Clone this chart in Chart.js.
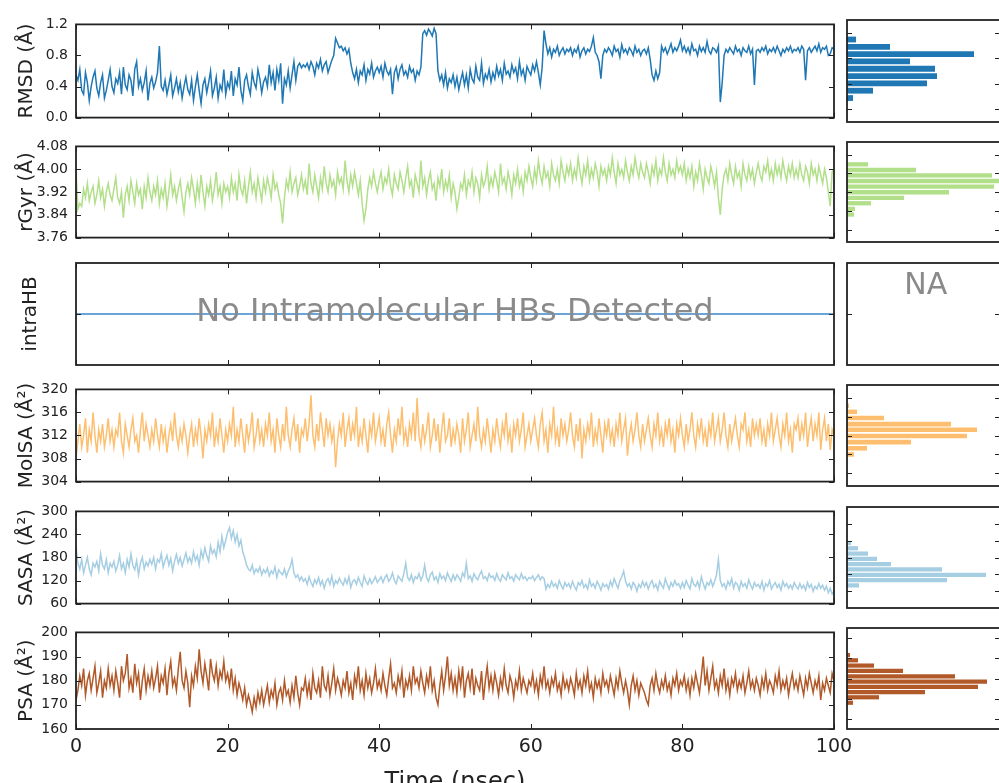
<!DOCTYPE html>
<html>
<head>
<meta charset="utf-8">
<title>Simulation properties</title>
<script src="https://cdn.jsdelivr.net/npm/chart.js@4.4.1/dist/chart.umd.min.js"></script>
<style>
  html, body { margin: 0; padding: 0; background: #fff; }
  body { width: 999px; height: 783px; overflow: hidden; position: relative; }
  canvas { position: absolute; }
</style>
</head>
<body>
<script>
// time axis: one sample every 0.25 ns
const timeStep = 0.25;
const timeTicks = [0, 20, 40, 60, 80, 100];

const rmsdTicks = [0.0, 0.4, 0.8, 1.2];
const rgyrTicks = [3.76, 3.84, 3.92, 4.00, 4.08];
const intraHbTicks = [0];
const molsaTicks = [304, 308, 312, 316, 320];
const sasaTicks = [60, 120, 180, 240, 300];
const psaTicks = [160, 170, 180, 190, 200];

// one row = 5 ns
const rmsd = [
  0.55, 0.48, 0.62, 0.35, 0.30, 0.58, 0.45, 0.22, 0.40, 0.52, 0.60, 0.38, 0.28, 0.45, 0.55, 0.25, 0.35, 0.48, 0.62, 0.40,
  0.32, 0.50, 0.44, 0.58, 0.30, 0.65, 0.42, 0.36, 0.55, 0.48, 0.28, 0.62, 0.72, 0.40, 0.50, 0.35, 0.45, 0.60, 0.22, 0.44,
  0.52, 0.38, 0.46, 0.58, 0.92, 0.40, 0.35, 0.48, 0.30, 0.42, 0.55, 0.28, 0.38, 0.50, 0.33, 0.45, 0.25, 0.40, 0.52, 0.36,
  0.30, 0.48, 0.22, 0.40, 0.55, 0.35, 0.18, 0.42, 0.50, 0.32, 0.45, 0.60, 0.28, 0.38, 0.52, 0.25, 0.42, 0.35, 0.62, 0.30,
  0.45, 0.38, 0.60, 0.28, 0.50, 0.42, 0.65, 0.35, 0.22, 0.48, 0.55, 0.40, 0.30, 0.58, 0.45, 0.38, 0.62, 0.50, 0.32, 0.46,
  0.52, 0.40, 0.68, 0.45, 0.58, 0.35, 0.62, 0.48, 0.70, 0.18, 0.50, 0.42, 0.60, 0.38, 0.55, 0.72, 0.48, 0.66, 0.70, 0.64,
  0.68, 0.65, 0.70, 0.62, 0.72, 0.66, 0.55, 0.70, 0.64, 0.75, 0.60, 0.68, 0.72, 0.58, 0.66, 0.74, 0.80, 1.02, 0.96, 0.90,
  0.92, 0.86, 0.90, 0.82, 0.88, 0.70, 0.58, 0.50, 0.62, 0.45, 0.60, 0.55, 0.68, 0.48, 0.62, 0.56, 0.70, 0.52, 0.60, 0.65,
  0.58, 0.66, 0.52, 0.70, 0.60, 0.55, 0.62, 0.30, 0.58, 0.65, 0.50, 0.62, 0.68, 0.55, 0.60, 0.52, 0.66, 0.58, 0.62, 0.48,
  0.60, 0.55, 0.65, 1.08, 1.12, 1.06, 1.14, 1.10, 1.05, 1.15, 1.08, 0.60, 0.48, 0.55, 0.42, 0.58, 0.38, 0.50, 0.45, 0.55,
  0.40, 0.52, 0.36, 0.48, 0.58, 0.42, 0.55, 0.38, 0.62, 0.50, 0.45, 0.66, 0.52, 0.48, 0.70, 0.44, 0.56, 0.50, 0.62, 0.46,
  0.58, 0.50, 0.66, 0.54, 0.62, 0.48, 0.70, 0.56, 0.60, 0.52, 0.68, 0.58, 0.64, 0.50, 0.72, 0.55, 0.62, 0.48, 0.66, 0.60,
  0.55, 0.68, 0.60, 0.72, 0.58, 0.42, 0.65, 1.12, 0.95, 0.82, 0.90, 0.78, 0.88, 0.84, 0.92, 0.80, 0.86, 0.90, 0.82, 0.88,
  0.85, 0.90, 0.80, 0.88, 0.84, 0.92, 0.78, 0.86, 0.90, 0.82, 0.88, 0.85, 0.92, 1.03, 0.84, 0.80, 0.72, 0.50, 0.80, 0.88,
  0.84, 0.90, 0.86, 0.80, 0.92, 0.85, 0.88, 0.78, 0.94, 0.84, 0.88, 0.82, 0.90, 0.86, 0.80, 0.92, 0.84, 0.88, 0.80, 0.86,
  0.88, 0.82, 0.90, 0.75, 0.55, 0.48, 0.60, 0.50, 0.58, 0.92, 0.85, 0.90, 0.82, 0.88, 0.95, 0.84, 0.90, 0.86, 0.92, 1.00,
  0.86, 0.92, 0.84, 0.90, 0.82, 0.95, 0.86, 0.88, 0.80, 0.92, 0.85, 0.90, 0.84, 0.98, 0.86, 0.82, 0.90, 0.88, 0.84, 0.92,
  0.20, 0.45, 0.80, 0.88, 0.84, 0.90, 0.86, 0.82, 0.92, 0.85, 0.88, 0.80, 0.90, 0.86, 0.84, 0.92, 0.82, 0.88, 0.42, 0.86,
  0.88, 0.84, 0.90, 0.86, 0.92, 0.82, 0.88, 0.85, 0.90, 0.84, 0.92, 0.86, 0.80, 0.88, 0.84, 0.90, 0.86, 0.92, 0.84, 0.88,
  0.86, 0.90, 0.84, 0.92, 0.88, 0.48, 0.86, 0.90, 0.84, 0.88, 0.92, 0.86, 0.95, 0.84, 0.90, 0.88, 0.92, 0.80, 0.82, 0.90,
  0.88
];

const rgyr = [
  4.00, 3.86, 3.88, 3.87, 3.93, 3.90, 3.95, 3.89, 3.92, 3.94, 3.88, 3.91, 3.96, 3.90, 3.93, 3.87, 3.92, 3.95, 3.91, 3.89,
  3.93, 3.97, 3.90, 3.88, 3.92, 3.83, 3.91, 3.94, 3.89, 3.96, 3.92, 3.88, 3.95, 3.91, 3.93, 3.86, 3.94, 3.90, 3.97, 3.92,
  3.89, 3.94, 3.91, 3.96, 3.88, 3.93, 3.90, 3.95, 3.87, 3.92, 3.98, 3.91, 3.94, 3.89, 3.93, 3.96, 3.90, 3.85, 3.92, 3.95,
  3.91, 3.97, 3.93, 3.88, 3.95, 3.90, 3.98, 3.92, 3.87, 3.94, 3.91, 3.96, 3.89, 3.93, 3.99, 3.91, 3.94, 3.88, 3.95, 3.92,
  3.94, 3.90, 3.97, 3.92, 3.95, 3.89, 3.98, 3.93, 3.91, 3.96, 3.88, 3.94, 3.99, 3.92, 3.95, 3.90, 3.97, 3.93, 3.89, 3.96,
  3.92, 3.97, 3.94, 3.90, 3.98, 3.93, 3.95, 3.91, 3.88, 3.81, 3.90, 3.96, 3.93, 3.99, 3.92, 3.95, 3.97, 3.91, 3.94, 3.98,
  3.93, 3.96, 3.91, 4.02, 3.95, 3.92, 3.98, 3.94, 3.90, 3.97, 3.93, 4.01, 3.95, 3.92, 3.98, 3.94, 3.96, 3.91, 3.99, 3.95,
  3.97, 3.93, 4.03, 3.96, 3.92, 3.98, 3.94, 3.99, 3.95, 3.91, 3.96, 3.88, 3.82, 3.86, 3.93, 3.97, 3.94, 3.99, 3.95, 3.92,
  3.96, 3.99, 3.93, 3.97, 3.95, 4.00, 3.94, 3.91, 3.98, 3.95, 3.93, 3.99, 3.96, 3.92, 3.97, 4.01, 3.94, 3.96, 3.90, 3.98,
  3.95, 3.92, 4.03, 3.94, 3.97, 3.91, 3.96, 3.99, 3.93, 3.95, 3.89, 3.97, 3.94, 4.00, 3.92, 3.96, 3.93, 3.98, 3.90, 3.95,
  3.92, 3.86, 3.90, 3.95, 3.93, 3.98, 3.91, 3.96, 3.94, 3.99, 3.92, 3.97, 3.95, 3.90, 3.98, 3.94, 3.96, 4.01, 3.93, 3.97,
  3.94, 3.99, 3.96, 3.92, 4.02, 3.95, 3.97, 3.93, 3.99, 3.96, 3.91, 3.98, 3.95, 4.00, 3.94, 3.97, 3.92, 3.99, 3.96, 4.01,
  3.97, 3.94, 4.00, 3.96, 4.03, 3.98, 3.95, 4.01, 3.97, 3.99, 3.94, 4.02, 3.98, 3.96, 4.00, 3.95, 4.03, 3.99, 3.96, 4.01,
  3.98, 4.02, 3.96, 4.00, 3.97, 4.04, 3.99, 3.95, 4.01, 3.98, 4.03, 3.96, 4.00, 3.97, 4.02, 3.99, 3.94, 4.01, 3.98, 4.00,
  3.96, 4.01, 3.98, 4.04, 3.99, 3.95, 4.02, 3.98, 4.00, 3.97, 4.03, 3.99, 3.96, 4.01, 3.98, 4.04, 4.00, 3.97, 4.02, 3.99,
  3.97, 4.02, 3.99, 3.95, 4.01, 3.98, 4.03, 3.96, 4.00, 3.98, 4.04, 3.99, 3.96, 4.02, 3.98, 4.00, 3.97, 4.03, 3.99, 4.01,
  3.98, 4.02, 3.96, 4.00, 3.97, 4.01, 3.94, 3.99, 3.96, 4.02, 3.98, 3.93, 4.00, 3.97, 3.95, 4.01, 3.98, 3.94, 3.99, 3.90,
  3.84, 3.93, 3.98, 4.00, 3.96, 4.02, 3.98, 3.95, 4.01, 3.97, 3.99, 3.94, 4.02, 3.98, 3.96, 4.01, 3.97, 4.00, 3.95, 3.99,
  4.02, 3.98, 3.96, 4.01, 3.99, 4.03, 3.97, 4.00, 3.96, 4.02, 3.98, 4.01, 3.97, 4.03, 3.99, 3.96, 4.01, 3.98, 4.02, 3.97,
  4.00, 3.97, 4.02, 3.98, 3.96, 4.01, 3.99, 3.95, 4.02, 3.98, 4.00, 3.96, 4.01, 3.98, 3.95, 4.00, 3.97, 3.92, 3.87, 3.99,
  4.00
];

const intraHbTime = [0, 100];
const intraHb = [0, 0];

const molsa = [
  308, 311, 314, 310, 312, 315, 309, 313, 311, 316, 312, 309, 313, 311, 314, 310, 312, 315, 311, 313,
  310, 313, 312, 316, 311, 309, 314, 312, 310, 313, 315, 311, 312, 309, 313, 316, 311, 314, 312, 310,
  313, 311, 315, 312, 310, 314, 311, 313, 309, 312, 314, 311, 316, 312, 310, 313, 311, 314, 312, 309,
  312, 314, 310, 313, 311, 315, 312, 308, 313, 311, 314, 312, 316, 310, 313, 311, 315, 312, 309, 313,
  311, 314, 312, 317, 310, 313, 311, 315, 312, 309, 314, 311, 313, 316, 310, 312, 315, 311, 313, 310,
  314, 312, 316, 311, 313, 309, 315, 312, 310, 314, 311, 317, 312, 310, 313, 315, 311, 314, 309, 313,
  312, 315, 311, 314, 319, 312, 310, 314, 311, 316, 313, 310, 315, 312, 314, 311, 313, 306.5, 311, 314,
  312, 316, 310, 313, 315, 311, 314, 312, 317, 310, 313, 311, 315, 312, 309, 314, 312, 316, 311, 313,
  315, 311, 313, 310, 314, 316, 312, 309, 313, 311, 315, 312, 317, 311, 313, 310, 314, 312, 316, 311,
  318.5, 312, 310, 314, 311, 313, 316, 310, 312, 315, 311, 314, 309, 313, 316, 311, 312, 315, 310, 313,
  311, 314, 312, 309, 315, 311, 313, 316, 310, 312, 314, 311, 317, 312, 310, 313, 311, 315, 312, 309,
  313, 311, 315, 312, 310, 314, 312, 316, 311, 313, 309, 314, 312, 315, 311, 313, 316, 310, 312, 314,
  311, 313, 315, 312, 310, 314, 316, 311, 313, 309, 314, 312, 317, 311, 313, 310, 315, 312, 314, 311,
  313, 316, 312, 310, 314, 311, 315, 308, 313, 311, 314, 312, 316, 310, 313, 311, 315, 312, 309, 314,
  312, 315, 311, 313, 310, 314, 312, 316, 311, 313, 315, 308.5, 312, 314, 311, 313, 316, 312, 310, 314,
  311, 313, 315, 312, 310, 314, 312, 316, 311, 313, 310, 314, 312, 315, 311, 313, 309, 314, 312, 315,
  312, 310, 314, 311, 313, 316, 312, 310, 314, 312, 315, 311, 313, 310, 314, 312, 316, 311, 313, 315,
  311, 313, 316, 312, 310, 314, 311, 313, 315, 312, 310, 314, 313, 316, 311, 313, 310, 315, 312, 314,
  312, 315, 311, 313, 310, 314, 312, 316, 311, 313, 315, 312, 310, 314, 312, 316, 311, 313, 309, 314,
  313, 315, 311, 314, 312, 316, 310, 313, 315, 311, 314, 312, 316, 309.5, 313, 315, 311, 314, 309.5, 313,
  312
];

const sasa = [
  210, 165, 150, 175, 140, 160, 180, 150, 135, 165, 155, 170, 145, 190, 160, 150, 175, 140, 165, 155,
  170, 145, 160, 185, 150, 165, 140, 175, 155, 190, 160, 148, 172, 135, 165, 180, 150, 168, 158, 175,
  162, 180, 150, 175, 168, 190, 155, 172, 185, 160, 178, 145, 170, 188, 165, 180, 158, 175, 192, 168,
  180, 165, 195, 172, 185, 160, 198, 178, 205, 185, 170, 210, 190, 200, 182, 220, 195, 235, 205, 225,
  245, 258, 230, 250, 220, 240, 210, 225, 195, 180, 160, 150, 145, 160, 138, 150, 142, 155, 135, 148,
  140, 152, 132, 145, 138, 155, 128, 148, 140, 135, 150, 130, 145, 155, 175, 140, 128, 135, 120, 130,
  118, 125, 110, 130, 115, 105, 122, 112, 128, 108, 120, 100, 118, 125, 110, 132, 105, 120, 112, 126,
  115, 108, 125, 112, 130, 102, 118, 122, 110, 128, 115, 105, 132, 118, 110, 125, 112, 120, 130, 115,
  122, 130, 115, 128, 135, 118, 125, 140, 120, 112, 132, 125, 118, 138, 165, 128, 120, 135, 115, 130,
  125, 138, 120, 132, 160, 128, 118, 135, 142, 122, 130, 115, 138, 125, 132, 120, 140, 128, 118, 135,
  122, 135, 128, 118, 140, 130, 165, 125, 132, 118, 138, 128, 122, 135, 145, 125, 130, 120, 138, 128,
  132, 120, 138, 125, 118, 135, 128, 122, 140, 125, 130, 118, 135, 128, 122, 138, 125, 130, 120, 128,
  125, 132, 120, 128, 135, 122, 130, 125, 98, 110, 102, 118, 105, 112, 100, 120, 108, 98, 115, 105,
  112, 100, 118, 105, 95, 115, 108, 120, 102, 110, 98, 122, 105, 112, 100, 118, 108, 95, 112, 104,
  110, 98, 118, 105, 125, 112, 100, 120, 130, 145, 118, 105, 112, 98, 115, 108, 92, 110, 102, 118,
  105, 115, 98, 112, 120, 102, 110, 95, 118, 108, 100, 125, 110, 98, 115, 105, 120, 108, 112, 100,
  115, 102, 120, 108, 98, 125, 110, 105, 118, 100, 130, 112, 98, 115, 108, 122, 105, 118, 135, 175,
  120, 105, 112, 98, 118, 108, 125, 100, 115, 110, 95, 118, 105, 112, 100, 122, 108, 98, 115, 105,
  110, 100, 118, 95, 112, 105, 120, 98, 108, 115, 102, 110, 95, 118, 105, 112, 100, 108, 98, 115,
  105, 98, 112, 100, 108, 95, 115, 102, 110, 92, 105, 98, 112, 100, 108, 95, 105, 88, 100, 85,
  92
];

const psa = [
  172, 176, 182, 178, 185, 174, 180, 183, 176, 181, 186, 175, 179, 184, 173, 180, 177, 185, 178, 182,
  176, 184, 179, 173, 186, 180, 183, 191, 177, 181, 175, 187, 179, 183, 172, 180, 185, 176, 182, 178,
  184, 177, 181, 186, 175, 182, 179, 185, 174, 183, 188, 178, 181, 176, 185, 192, 180, 177, 184, 179,
  169, 182, 178, 186, 181, 193, 184, 179, 187, 182, 176, 189, 183, 180, 186, 178, 184, 181, 188, 180,
  183, 178, 185, 176, 181, 174, 179, 176, 172, 177, 170, 174, 171, 167, 173, 169, 175, 171, 176, 170,
  174, 178, 171, 176, 173, 179, 170, 175, 177, 172, 180, 174, 176, 171, 178, 173, 182, 175, 170, 177,
  176, 181, 174, 179, 172, 183, 177, 175, 180, 173, 186, 178, 176, 182, 174, 179, 185, 176, 181, 178,
  174, 180, 177, 184, 175, 179, 172, 182, 178, 186, 176, 180, 174, 183, 177, 181, 175, 179, 185, 177,
  180, 176, 183, 178, 174, 181, 187, 177, 179, 175, 182, 178, 184, 173, 180, 177, 182, 176, 186, 179,
  181, 177, 184, 179, 175, 182, 178, 186, 176, 180, 173, 170, 178, 184, 176, 182, 190, 178, 183, 176,
  181, 175, 184, 178, 186, 173, 180, 183, 177, 185, 174, 181, 178, 176, 184, 172, 180, 186, 177, 182,
  176, 183, 179, 174, 181, 177, 185, 178, 175, 182, 179, 173, 180, 177, 184, 176, 181, 178, 175, 180,
  178, 183, 176, 180, 174, 182, 178, 186, 177, 180, 175, 181, 178, 183, 176, 179, 174, 182, 177, 180,
  176, 181, 178, 174, 183, 177, 180, 175, 182, 178, 184, 176, 179, 173, 181, 177, 180, 175, 183, 178,
  180, 176, 182, 178, 174, 181, 177, 184, 179, 175, 180, 176, 170, 178, 182, 176, 180, 174, 179, 177,
  175, 172, 170, 178, 181, 176, 183, 178, 175, 180, 177, 182, 176, 179, 174, 181, 178, 183, 176, 180,
  178, 182, 176, 180, 174, 181, 177, 183, 179, 175, 182, 190, 178, 184, 176, 181, 186, 177, 180, 175,
  182, 178, 185, 176, 180, 174, 181, 178, 183, 176, 180, 177, 182, 175, 179, 184, 177, 180, 176, 181,
  178, 174, 181, 177, 183, 176, 180, 178, 175, 182, 178, 184, 176, 180, 177, 181, 174, 179, 183, 177,
  180, 176, 182, 178, 174, 181, 177, 183, 179, 175, 180, 177, 182, 172, 179, 176, 181, 178, 175, 183,
  180
];

// histogram bins (centres) and counts, top bin first
const rmsdBins = [1.094, 0.979, 0.864, 0.750, 0.635, 0.520, 0.405, 0.291, 0.176];
const rmsdCounts = [9, 43, 127, 63, 88, 90, 80, 26, 6];
const rgyrBins = [4.038, 4.014, 3.991, 3.967, 3.943, 3.919, 3.895, 3.872, 3.848, 3.824];
const rgyrCounts = [21, 69, 145, 158, 147, 102, 57, 24, 8, 7];
const molsaBins = [318.3, 317.0, 315.7, 314.4, 313.2, 311.9, 310.6, 309.3, 308.0];
const molsaCounts = [2, 10, 37, 104, 130, 120, 64, 20, 7];
const sasaBins = [231.8, 212.9, 194.0, 175.1, 156.2, 137.3, 118.4, 99.5, 80.6];
const sasaCounts = [4, 11, 21, 30, 44, 95, 139, 100, 12];
const psaBins = [191.6, 189.0, 186.4, 183.8, 181.1, 178.5, 175.9, 173.3, 170.7, 168.0];
const psaCounts = [3, 11, 27, 56, 108, 140, 131, 78, 32, 6];

Chart.defaults.font.family = '"DejaVu Sans", sans-serif';
Chart.defaults.color = '#222';

const noteColor = '#8a8a8a';

const panels = [
  { title: 'RMSD (Å)', top: 20, bottom: 122, min: 0, max: 1.2, ticks: rmsdTicks, digits: 1,
    color: '#1f78b4', values: rmsd, bins: rmsdBins, counts: rmsdCounts, titlePad: 15 },
  { title: 'rGyr (Å)', top: 142, bottom: 242, min: 3.76, max: 4.08, ticks: rgyrTicks, digits: 2,
    color: '#b2df8a', values: rgyr, bins: rgyrBins, counts: rgyrCounts, titlePad: 15 },
  { title: 'intraHB', top: 263, bottom: 365, min: -1, max: 1, ticks: intraHbTicks, digits: 0, hideLabels: true,
    color: '#3a86c8', values: intraHb, time: intraHbTime, bins: [], counts: [], titlePad: 19,
    note: { text: 'No Intramolecular HBs Detected', size: 32, fx: 0.5, fy: 0.49 },
    histNote: { text: 'NA', size: 30, fx: 0.515, fy: 0.225 } },
  { title: 'MolSA (Å²)', top: 385, bottom: 486, min: 304, max: 320, ticks: molsaTicks, digits: 0,
    color: '#fdbf6f', values: molsa, bins: molsaBins, counts: molsaCounts, titlePad: 15 },
  { title: 'SASA (Å²)', top: 507, bottom: 608, min: 60, max: 300, ticks: sasaTicks, digits: 0,
    color: '#a6cee3', values: sasa, bins: sasaBins, counts: sasaCounts, titlePad: 15 },
  { title: 'PSA (Å²)', top: 628, bottom: 729, min: 160, max: 200, ticks: psaTicks, digits: 0,
    color: '#b15928', values: psa, bins: psaBins, counts: psaCounts, titlePad: 15 }
];

// box, inside tick marks and centred notes, like the old matplotlib style
function makeFrame(xTicks, yTicks, note) {
  return {
    id: 'frame',
    afterDatasetsDraw(chart) {
      const { ctx, chartArea: a, scales } = chart;
      const len = 5;
      ctx.save();
      if (note) {
        ctx.font = note.size + 'px "DejaVu Sans", sans-serif';
        ctx.fillStyle = noteColor;
        ctx.textAlign = 'center';
        ctx.textBaseline = 'middle';
        ctx.fillText(note.text, a.left + a.width * note.fx, a.top + a.height * note.fy);
      }
      ctx.strokeStyle = '#222';
      ctx.lineWidth = 1;
      ctx.beginPath();
      xTicks.forEach(v => {
        const px = Math.round(scales.x.getPixelForValue(v)) + 0.5;
        ctx.moveTo(px, a.bottom); ctx.lineTo(px, a.bottom - len);
        ctx.moveTo(px, a.top); ctx.lineTo(px, a.top + len);
      });
      yTicks.forEach(v => {
        const py = Math.round(scales.y.getPixelForValue(v)) + 0.5;
        ctx.moveTo(a.left, py); ctx.lineTo(a.left + len, py);
        ctx.moveTo(a.right, py); ctx.lineTo(a.right - len, py);
      });
      ctx.stroke();
      ctx.lineWidth = 1.8;
      ctx.strokeRect(a.left, a.top, a.width, a.height);
      ctx.restore();
    }
  };
}

function addCanvas(left, top, width, height) {
  const canvas = document.createElement('canvas');
  canvas.width = width;
  canvas.height = height;
  canvas.style.left = left + 'px';
  canvas.style.top = top + 'px';
  document.body.appendChild(canvas);
  return canvas;
}

function createLinePanel(p, isBottom) {
  const padTop = 12;
  const axisH = isBottom ? 68 : 0;
  const padBottom = isBottom ? 0 : 12;
  const canvas = addCanvas(0, p.top - padTop, 860, padTop + (p.bottom - p.top) + axisH + padBottom);
  const times = p.time || p.values.map((v, i) => i * timeStep);

  return new Chart(canvas, {
    type: 'line',
    data: {
      datasets: [{
        data: p.values.map((v, i) => ({ x: times[i], y: v })),
        borderColor: p.color,
        borderWidth: 1.5,
        pointRadius: 0,
        tension: 0
      }]
    },
    options: {
      responsive: false,
      animation: false,
      events: [],
      layout: { padding: { top: padTop, bottom: padBottom, left: 0, right: 26 } },
      plugins: { legend: { display: false }, tooltip: { enabled: false } },
      scales: {
        x: {
          type: 'linear', min: 0, max: 100, display: isBottom,
          afterBuildTicks: s => { s.ticks = timeTicks.map(v => ({ value: v })); },
          afterFit: s => { s.height = axisH; },
          grid: { display: false, drawTicks: false },
          border: { display: false },
          ticks: { font: { size: 19 }, padding: 7, maxRotation: 0 },
          title: { display: isBottom, text: 'Time (nsec)', font: { size: 24 }, padding: { top: 0, bottom: 0 } }
        },
        y: {
          type: 'linear', min: p.min, max: p.max,
          afterBuildTicks: s => { s.ticks = p.ticks.map(v => ({ value: v })); },
          afterFit: s => { s.width = 76; },
          grid: { display: false, drawTicks: false },
          border: { display: false },
          ticks: { display: !p.hideLabels, font: { size: 14 }, padding: 8, callback: v => Number(v).toFixed(p.digits) },
          title: { display: true, text: p.title, font: { size: 20 }, padding: { top: p.titlePad, bottom: 0 } }
        }
      }
    },
    plugins: [makeFrame(timeTicks, p.ticks, p.note)]
  });
}

function createHistPanel(p) {
  const pad = 4;
  const canvas = addCanvas(847 - pad, p.top - pad, 153 + 2 * pad, (p.bottom - p.top) + 2 * pad);

  return new Chart(canvas, {
    type: 'bar',
    data: {
      datasets: [{
        data: p.bins.map((b, i) => ({ x: p.counts[i], y: b })),
        backgroundColor: p.color,
        borderWidth: 0,
        categoryPercentage: 1,
        barPercentage: 0.8
      }]
    },
    options: {
      indexAxis: 'y',
      responsive: false,
      animation: false,
      events: [],
      layout: { padding: pad },
      plugins: { legend: { display: false }, tooltip: { enabled: false } },
      scales: {
        x: { type: 'linear', min: 0, max: 153, display: false },
        y: { type: 'linear', min: p.min, max: p.max, display: false }
      }
    },
    plugins: [makeFrame([], p.ticks, p.histNote)]
  });
}

panels.forEach((p, i) => {
  createLinePanel(p, i === panels.length - 1);
  createHistPanel(p);
});
</script>
</body>
</html>
